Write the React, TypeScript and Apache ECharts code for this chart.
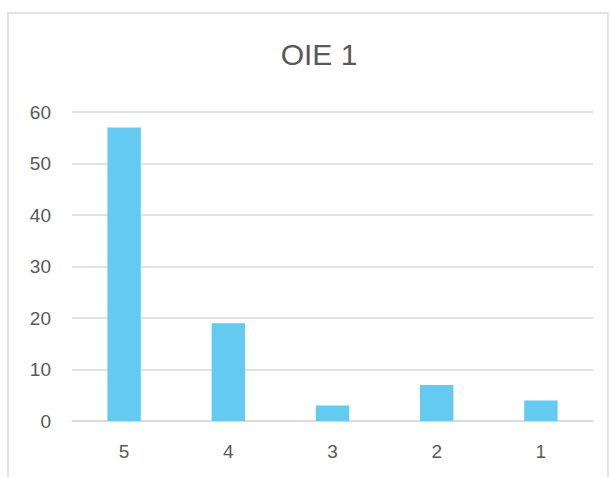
import React, { useEffect, useRef } from "react";
import * as echarts from "echarts";

const categories = ["5", "4", "3", "2", "1"];
const values = [57, 19, 3, 7, 4];
const titleText = "OIE 1";

export default function App() {
  const ref = useRef<HTMLDivElement>(null);
  useEffect(() => {
    if (!ref.current) return;
    const chart = echarts.init(ref.current, null, { renderer: "svg" });
    chart.setOption({
      animation: false,
      backgroundColor: "#ffffff",
      title: {
        text: titleText,
        left: 314,
        top: 34,
        textAlign: "center",
        textStyle: {
          fontFamily: "Liberation Sans",
          fontSize: 30,
          fontWeight: "normal",
          color: "#595959",
        },
      },
      graphic: [
        {
          type: "rect",
          shape: { x: 8, y: 13, width: 600, height: 480 },
          style: { fill: "none", stroke: "#d9d9d9", lineWidth: 1.5 },
          silent: true,
        },
      ],
      grid: { left: 72, right: 17, top: 112, bottom: 56 },
      xAxis: {
        type: "category",
        data: categories,
        axisLine: { show: true, lineStyle: { color: "#d9d9d9", width: 1.5 } },
        axisTick: { show: false },
        axisLabel: {
          color: "#595959",
          fontFamily: "Liberation Sans",
          fontSize: 19,
          margin: 21,
        },
      },
      yAxis: {
        type: "value",
        min: 0,
        max: 60,
        interval: 10,
        axisLine: { show: false },
        axisTick: { show: false },
        splitLine: { lineStyle: { color: "#d9d9d9", width: 1.5 } },
        axisLabel: {
          color: "#595959",
          fontFamily: "Liberation Sans",
          fontSize: 19,
          margin: 21,
        },
      },
      series: [
        {
          type: "bar",
          data: values,
          barWidth: "32%",
          itemStyle: { color: "#63CAF2" },
        },
      ],
    });
    return () => chart.dispose();
  }, []);
  return <div ref={ref} style={{ width: 610, height: 477, position: "absolute", left: 0, top: 0 }} />;
}
